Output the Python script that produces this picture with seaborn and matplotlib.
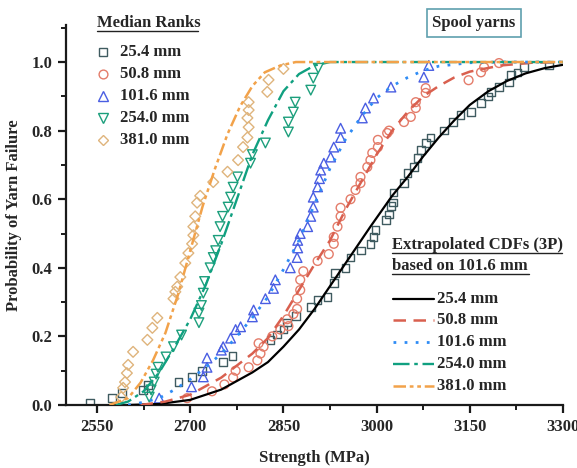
import numpy as np
import pandas as pd
import matplotlib
matplotlib.use("Agg")
import matplotlib.pyplot as plt
import seaborn as sns
from matplotlib.lines import Line2D
from matplotlib.ticker import MultipleLocator, FixedLocator

# ---------------- data ----------------
labels = ["25.4 mm", "50.8 mm", "101.6 mm", "254.0 mm", "381.0 mm"]

rank_x_25 = [2539, 2574, 2590, 2624, 2632, 2681, 2703, 2719, 2753, 2768, 2829, 2840, 2850, 2856,
             2870, 2894, 2905, 2921, 2931, 2933, 2950, 2958, 2975, 2990, 2995, 2998, 3015, 3020,
             3023, 3026, 3027, 3044, 3050, 3060, 3066, 3071, 3079, 3087, 3108, 3123, 3135, 3152,
             3168, 3179, 3184, 3197, 3213, 3216, 3227, 3237, 3277]
rank_y_25 = [0.006, 0.02, 0.035, 0.044, 0.058, 0.067, 0.082, 0.10, 0.125, 0.143, 0.19, 0.205, 0.22,
             0.24, 0.26, 0.286, 0.306, 0.315, 0.355, 0.385, 0.40, 0.43, 0.45, 0.47, 0.49, 0.51, 0.54,
             0.555, 0.58, 0.59, 0.62, 0.647, 0.676, 0.694, 0.72, 0.743, 0.764, 0.78, 0.80, 0.825,
             0.845, 0.855, 0.88, 0.90, 0.912, 0.927, 0.94, 0.962, 0.97, 0.985, 0.99]

rank_x_50 = [2695, 2735, 2755, 2769, 2773, 2794, 2808, 2813, 2818, 2810, 2832, 2845, 2858, 2856,
             2866, 2872, 2872, 2877, 2877, 2882, 2905, 2923, 2931, 2931, 2937, 2942, 2942, 2958,
             2966, 2974, 2974, 2985, 2990, 2993, 3002, 3002, 3017, 3020, 3044, 3055, 3063, 3063,
             3079, 3079, 3148, 3168, 3173, 3197]
rank_y_50 = [0.02, 0.04, 0.06, 0.08, 0.10, 0.11, 0.13, 0.15, 0.17, 0.18, 0.20, 0.22, 0.23, 0.25,
             0.265, 0.28, 0.31, 0.335, 0.365, 0.39, 0.42, 0.44, 0.47, 0.49, 0.52, 0.55, 0.575, 0.60,
             0.627, 0.647, 0.665, 0.694, 0.714, 0.735, 0.752, 0.773, 0.793, 0.80, 0.825, 0.84,
             0.866, 0.883, 0.91, 0.924, 0.947, 0.97, 0.985, 0.997]

rank_x_101 = [2650, 2702, 2721, 2727, 2727, 2750, 2753, 2765, 2773, 2781, 2800, 2802, 2821, 2834,
              2837, 2861, 2872, 2873, 2873, 2877, 2889, 2894, 2898, 2898, 2905, 2908, 2910, 2915,
              2926, 2931, 2942, 2942, 2977, 2982, 2995, 3023, 3076, 3084]
rank_y_101 = [0.02, 0.053, 0.082, 0.11, 0.137, 0.16, 0.17, 0.195, 0.22, 0.228, 0.257, 0.277, 0.31,
              0.34, 0.365, 0.40, 0.43, 0.458, 0.48, 0.50, 0.52, 0.55, 0.577, 0.606, 0.636, 0.66,
              0.685, 0.705, 0.723, 0.752, 0.78, 0.807, 0.837, 0.866, 0.895, 0.927, 0.956, 0.99]

rank_x_254 = [2634, 2637, 2642, 2645, 2648, 2661, 2673, 2686, 2714, 2714, 2718, 2721, 2723, 2732,
              2737, 2741, 2745, 2748, 2752, 2761, 2765, 2769, 2776, 2797, 2800, 2821, 2858, 2858,
              2866, 2869, 2894, 2898, 2906]
rank_y_254 = [0.023, 0.044, 0.067, 0.09, 0.11, 0.14, 0.17, 0.204, 0.24, 0.268, 0.29, 0.326, 0.36,
              0.40, 0.43, 0.45, 0.48, 0.52, 0.55, 0.577, 0.606, 0.635, 0.665, 0.705, 0.73, 0.764,
              0.796, 0.825, 0.854, 0.883, 0.918, 0.953, 0.982]

rank_x_381 = [2589, 2592, 2595, 2598, 2600, 2608, 2631, 2639, 2647, 2673, 2676, 2679, 2684, 2692,
              2697, 2703, 2705, 2705, 2708, 2711, 2716, 2737, 2760, 2777, 2785, 2792, 2794, 2792,
              2794, 2794, 2824, 2826, 2850]
rank_y_381 = [0.023, 0.05, 0.067, 0.093, 0.117, 0.155, 0.19, 0.225, 0.254, 0.31, 0.33, 0.345,
              0.373, 0.414, 0.443, 0.47, 0.495, 0.52, 0.55, 0.59, 0.61, 0.65, 0.68, 0.714, 0.752,
              0.78, 0.81, 0.837, 0.86, 0.883, 0.913, 0.948, 0.98]

cdf_x_25 = [2600, 2650, 2700, 2750, 2800, 2825, 2850, 2875, 2900, 2930, 2960, 2990, 3025, 3050,
            3075, 3100, 3125, 3150, 3180, 3210, 3240, 3270, 3300]
cdf_y_25 = [0.0, 0.003, 0.015, 0.045, 0.095, 0.125, 0.17, 0.22, 0.28, 0.36, 0.44, 0.52, 0.61,
            0.665, 0.725, 0.78, 0.83, 0.875, 0.915, 0.945, 0.967, 0.982, 0.992]

cdf_x_50 = [2620, 2660, 2700, 2750, 2800, 2825, 2850, 2875, 2900, 2925, 2950, 2975, 3000, 3025,
            3050, 3075, 3100, 3125, 3150, 3200, 3250, 3300]
cdf_y_50 = [0.0, 0.01, 0.03, 0.08, 0.15, 0.195, 0.26, 0.335, 0.41, 0.48, 0.57, 0.65, 0.73, 0.80,
            0.855, 0.90, 0.93, 0.955, 0.972, 0.99, 0.998, 1.0]

cdf_x_101 = [2600, 2625, 2650, 2675, 2700, 2725, 2750, 2775, 2800, 2825, 2850, 2875, 2900, 2925,
             2950, 2975, 3000, 3025, 3050, 3075, 3100, 3150, 3200, 3300]
cdf_y_101 = [0.0, 0.008, 0.02, 0.045, 0.075, 0.11, 0.15, 0.20, 0.255, 0.315, 0.395, 0.48, 0.585,
             0.69, 0.775, 0.84, 0.895, 0.93, 0.955, 0.975, 0.988, 0.998, 1.0, 1.0]

cdf_x_254 = [2580, 2600, 2625, 2650, 2675, 2700, 2725, 2750, 2775, 2800, 2825, 2850, 2875, 2900,
             2925, 3300]
cdf_y_254 = [0.0, 0.01, 0.04, 0.095, 0.17, 0.25, 0.35, 0.47, 0.60, 0.73, 0.83, 0.915, 0.965,
             0.99, 1.0, 1.0]

cdf_x_381 = [2570, 2600, 2620, 2640, 2660, 2680, 2700, 2720, 2740, 2760, 2780, 2800, 2820, 2845,
             2870, 3300]
cdf_y_381 = [0.0, 0.02, 0.065, 0.13, 0.21, 0.32, 0.45, 0.58, 0.69, 0.79, 0.87, 0.93, 0.97, 0.99,
             1.0, 1.0]

x_ticks = [2550, 2700, 2850, 3000, 3150, 3300]
y_ticks = [0.0, 0.2, 0.4, 0.6, 0.8, 1.0]

# ---------------- style ----------------
sns.set_style("ticks")
plt.rcParams["font.family"] = ["Liberation Serif", "DejaVu Serif"]
plt.rcParams["font.weight"] = "bold"
plt.rcParams["axes.labelweight"] = "bold"

W, H = 577, 468
fig = plt.figure(figsize=(W / 100, H / 100), dpi=100)
fig.patch.set_facecolor("white")
ax = fig.add_axes([66 / W, 1 - 405 / H, (563 - 66) / W, (405 - 25) / H])
ax.set_facecolor("white")

rank_cols = ["#3f5b60", "#e47c6a", "#4a5ee2", "#1c9f7c", "#dfb47c"]
markers = ["s", "o", "^", "v", "D"]
msizes = [30, 40, 48, 48, 30]
line_cols = ["#000000", "#d9604f", "#2f8cf5", "#10a080", "#f2a24a"]
line_styles = ["-", (0, (5, 3)), (0, (1, 3)), (0, (7, 2, 1.5, 2)), (0, (5, 1.5, 1.5, 1.5, 1.5, 1.5))]
line_widths = [1.6, 1.8, 2.0, 1.7, 1.8]

rank_x = [rank_x_25, rank_x_50, rank_x_101, rank_x_254, rank_x_381]
rank_y = [rank_y_25, rank_y_50, rank_y_101, rank_y_254, rank_y_381]
cdf_x = [cdf_x_25, cdf_x_50, cdf_x_101, cdf_x_254, cdf_x_381]
cdf_y = [cdf_y_25, cdf_y_50, cdf_y_101, cdf_y_254, cdf_y_381]

for i in range(5):
    df = pd.DataFrame({"Strength": rank_x[i], "F": rank_y[i]})
    n_before = len(ax.collections)
    sns.scatterplot(data=df, x="Strength", y="F", ax=ax, marker=markers[i], s=msizes[i],
                    color=rank_cols[i], linewidth=1.0, legend=False, zorder=2)
    coll = ax.collections[n_before]
    coll.set_facecolor("none")
    coll.set_edgecolor(rank_cols[i])

for i in range(5):
    df = pd.DataFrame({"Strength": cdf_x[i], "F": cdf_y[i]})
    n_before = len(ax.lines)
    sns.lineplot(data=df, x="Strength", y="F", ax=ax, color=line_cols[i], lw=line_widths[i],
                 estimator=None, sort=False, legend=False, zorder=3)
    ax.lines[n_before].set_linestyle(line_styles[i])

ax.set_xlim(2500, 3300)
ax.set_ylim(0, 1.108)
ax.xaxis.set_major_locator(FixedLocator(x_ticks))
ax.xaxis.set_minor_locator(MultipleLocator(75))
ax.yaxis.set_major_locator(FixedLocator(y_ticks))
ax.yaxis.set_minor_locator(MultipleLocator(0.1))
ax.set_yticklabels([f"{v:.1f}" for v in y_ticks])
ax.set_xticklabels([str(v) for v in x_ticks])
for s in ["top", "right"]:
    ax.spines[s].set_visible(False)
for s in ["left", "bottom"]:
    ax.spines[s].set_linewidth(1.6)
    ax.spines[s].set_color("#1a1a1a")
ax.tick_params(which="major", direction="out", length=6, width=1.6, labelsize=12, pad=4,
               color="#1a1a1a")
ax.tick_params(which="minor", direction="out", length=3.5, width=1.4, color="#1a1a1a")
for t in ax.get_xticklabels() + ax.get_yticklabels():
    t.set_fontweight("bold")
ax.set_xlabel("Strength (MPa)", fontsize=12, fontweight="bold", labelpad=11)
ax.set_ylabel("Probability of Yarn Failure", fontsize=12, fontweight="bold", labelpad=7)

# ---------------- annotations / legends (figure pixel coords) ----------------
def fx(px):
    return px / W

def fy(py):
    return 1 - py / H

# Left legend: Median Ranks
fig.text(fx(97), fy(23), "Median Ranks", fontsize=12, fontweight="bold", va="center", ha="left")
fig.add_artist(Line2D([fx(97), fx(198)], [fy(31), fy(31)], color="#222222", lw=1.0))
rows_left = [52, 74, 96, 118, 140]
for i, py in enumerate(rows_left):
    fig.add_artist(Line2D([fx(103)], [fy(py)], marker=markers[i], markersize=np.sqrt(msizes[i]),
                          markerfacecolor="none", markeredgecolor=rank_cols[i], markeredgewidth=1.0,
                          linestyle="none"))
    fig.text(fx(120), fy(py), labels[i], fontsize=12, fontweight="bold", va="center", ha="left")

# Spool yarns box
fig.text(fx(474), fy(23), "Spool yarns", fontsize=12, fontweight="bold", va="center", ha="center",
         bbox=dict(boxstyle="square,pad=0.35", facecolor="white", edgecolor="#5f9fae", lw=1.2))

# Right legend: Extrapolated CDFs
fig.text(fx(392), fy(245), "Extrapolated CDFs (3P)", fontsize=12, fontweight="bold",
         va="center", ha="left")
fig.add_artist(Line2D([fx(392), fx(562)], [fy(253), fy(253)], color="#222222", lw=1.0))
fig.text(fx(392), fy(266), "based on 101.6 mm", fontsize=12, fontweight="bold",
         va="center", ha="left")
fig.add_artist(Line2D([fx(392), fx(529)], [fy(274), fy(274)], color="#222222", lw=1.0))
rows_right = [299, 320, 342, 364, 386]
for i, py in enumerate(rows_right):
    fig.add_artist(Line2D([fx(393), fx(434)], [fy(py), fy(py)], color=line_cols[i],
                          lw=line_widths[i], linestyle=line_styles[i]))
    fig.text(fx(437), fy(py), labels[i], fontsize=12, fontweight="bold", va="center", ha="left")

fig.savefig("out.png", dpi=100, facecolor="white")
